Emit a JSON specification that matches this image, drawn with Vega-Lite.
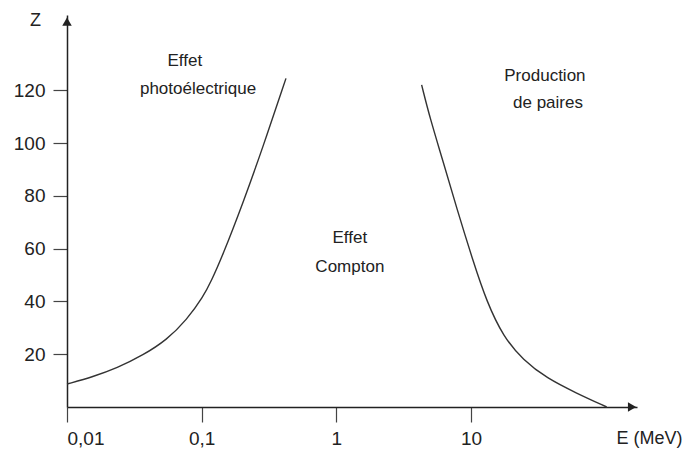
{
  "$schema": "https://vega.github.io/schema/vega-lite/v6.json",
  "width": 570,
  "height": 392,
  "autosize": {"type": "none"},
  "padding": {"left": 67, "top": 15, "right": 47, "bottom": 56},
  "background": "white",
  "config": {
    "view": {"stroke": null},
    "font": "Liberation Sans",
    "axis": {"grid": false, "domainColor": "#222", "domainWidth": 1.5, "tickColor": "#444", "tickWidth": 1.2, "labelColor": "#222", "labelFont": "Liberation Sans", "labelFontSize": 19, "titleFont": "Liberation Sans", "titleFontSize": 18, "titleFontWeight": "normal", "titleColor": "#222"}
  },
  "datasets": {
    "curves": [
      {"curve": "photo", "E": 0.01, "Z": 8.7},
      {"curve": "photo", "E": 0.01567, "Z": 11.5},
      {"curve": "photo", "E": 0.0234, "Z": 14.7},
      {"curve": "photo", "E": 0.0369, "Z": 19.7},
      {"curve": "photo", "E": 0.055, "Z": 25.4},
      {"curve": "photo", "E": 0.0774, "Z": 33},
      {"curve": "photo", "E": 0.1028, "Z": 41.8},
      {"curve": "photo", "E": 0.118, "Z": 47.8},
      {"curve": "photo", "E": 0.1416, "Z": 56.8},
      {"curve": "photo", "E": 0.2028, "Z": 77.3},
      {"curve": "photo", "E": 0.2853, "Z": 98.5},
      {"curve": "photo", "E": 0.4227, "Z": 124.5},
      {"curve": "paires", "E": 4.3, "Z": 122},
      {"curve": "paires", "E": 4.96, "Z": 109.4},
      {"curve": "paires", "E": 6.22, "Z": 92.9},
      {"curve": "paires", "E": 7.83, "Z": 75.3},
      {"curve": "paires", "E": 10.4, "Z": 55},
      {"curve": "paires", "E": 13.08, "Z": 39.9},
      {"curve": "paires", "E": 17.38, "Z": 26.6},
      {"curve": "paires", "E": 24.4, "Z": 17.8},
      {"curve": "paires", "E": 36.5, "Z": 10.9},
      {"curve": "paires", "E": 60.9, "Z": 5.2},
      {"curve": "paires", "E": 101.8, "Z": 0}
    ],
    "labels": [
      {"label": "Effet", "E": 0.075, "Z": 131},
      {"label": "photoélectrique", "E": 0.094, "Z": 120.5},
      {"label": "Effet", "E": 1.26, "Z": 64},
      {"label": "Compton", "E": 1.26, "Z": 53},
      {"label": "Production", "E": 35.4, "Z": 125.4},
      {"label": "de paires", "E": 37.3, "Z": 115}
    ],
    "arrowUp": [{"E": 0.01, "Z": 146}],
    "arrowRight": [{"E": 157, "Z": 0}]
  },
  "encoding": {
    "x": {"field": "E", "type": "quantitative",
      "scale": {"type": "log", "domain": [0.01, 170.9], "nice": false},
      "axis": {"values": [0.01, 0.1, 1, 10], "tickSize": 15, "labelPadding": 7,
        "labelExpr": "replace(format(datum.value, '~g'), '.', ',')",
        "title": "E (MeV)", "titleX": 582, "titleY": 31, "titleAlign": "center", "titleBaseline": "middle", "titleAngle": 0}},
    "y": {"field": "Z", "type": "quantitative",
      "scale": {"domain": [0, 148.5], "nice": false, "zero": true},
      "axis": {"values": [20, 40, 60, 80, 100, 120], "tickSize": 14, "labelPadding": 8,
        "title": "Z", "titleX": -32, "titleY": 5, "titleAngle": 0, "titleAlign": "center", "titleBaseline": "middle"}}
  },
  "layer": [
    {
      "data": {"name": "curves"},
      "mark": {"type": "line", "interpolate": "basis", "color": "#333", "strokeWidth": 1.4},
      "encoding": {"detail": {"field": "curve", "type": "nominal"}}
    },
    {
      "data": {"name": "arrowUp"},
      "mark": {"type": "point", "shape": "triangle-up", "filled": true, "color": "#222", "size": 90, "opacity": 1}
    },
    {
      "data": {"name": "arrowRight"},
      "mark": {"type": "point", "shape": "triangle-right", "filled": true, "color": "#222", "size": 90, "opacity": 1}
    },
    {
      "data": {"name": "labels"},
      "mark": {"type": "text", "align": "center", "baseline": "middle", "fontSize": 17, "color": "#222", "font": "Liberation Sans"},
      "encoding": {"text": {"field": "label", "type": "nominal"}}
    }
  ]
}
